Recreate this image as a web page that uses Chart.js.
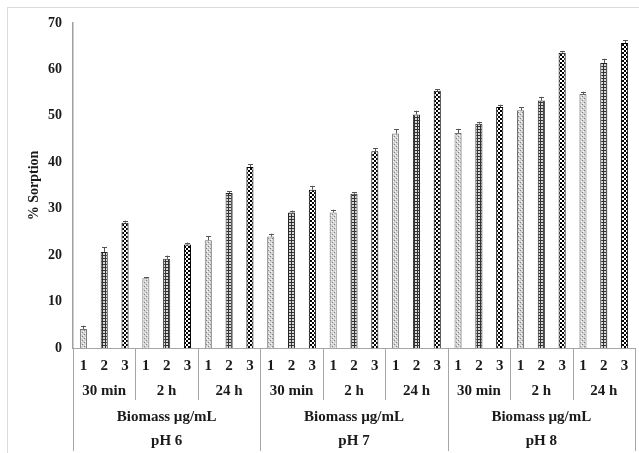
<!DOCTYPE html>
<html>
<head>
<meta charset="utf-8">
<script src="https://cdn.jsdelivr.net/npm/chart.js@4"></script>
<style>
  html, body { margin: 0; padding: 0; background: #fff; }
  #wrap { position: relative; width: 639px; height: 453px; overflow: hidden; }
  #frame { position: absolute; left: 7px; top: 7px; width: 660px; height: 480px; border: 1px solid #dcdcdc; }
  canvas { position: absolute; left: 0; top: 0; }
</style>
</head>
<body>
<div id="wrap">
  <div id="frame"></div>
  <canvas id="sorptionChart" width="639" height="453"></canvas>
</div>
<script>
// Chart data
const biomassLevels = ['1', '2', '3'];
const timePoints = ['30 min', '2 h', '24 h'];
const phGroups = ['pH 6', 'pH 7', 'pH 8'];
const groupTitle = 'Biomass \u00b5g/mL';

const sorptionPH6 = [4.1, 20.7, 27.0, 15.0, 19.2, 22.3, 23.2, 33.4, 39.0];
const sorptionPH7 = [24.0, 29.2, 34.1, 29.2, 33.2, 42.4, 46.2, 50.3, 55.4];
const sorptionPH8 = [46.3, 48.3, 51.9, 51.2, 53.3, 63.6, 54.7, 61.4, 65.7];

const errorPH6 = [0.7, 1.0, 0.4, 0.2, 0.7, 0.4, 0.9, 0.4, 0.6];
const errorPH7 = [0.6, 0.4, 0.7, 0.6, 0.4, 0.6, 0.9, 0.8, 0.3];
const errorPH8 = [0.9, 0.4, 0.5, 0.7, 0.8, 0.4, 0.5, 0.9, 0.6];

const yTicks = [0, 10, 20, 30, 40, 50, 60, 70];

const values = [...sorptionPH6, ...sorptionPH7, ...sorptionPH8];
const errors = [...errorPH6, ...errorPH7, ...errorPH8];
const labels = [];
phGroups.forEach(() => timePoints.forEach(() => biomassLevels.forEach(b => labels.push(b))));

const FONT = '"Liberation Serif", "Times New Roman", serif';

// Fill patterns for the three biomass levels
function makePattern(size, draw) {
    const c = document.createElement('canvas');
    c.width = size; c.height = size;
    draw(c.getContext('2d'));
    return document.getElementById('sorptionChart').getContext('2d').createPattern(c, 'repeat');
}

const dotted = makePattern(4, g => {
    g.fillStyle = '#d4d4d4'; g.fillRect(0, 0, 4, 4);
    g.fillStyle = '#ffffff'; g.fillRect(1, 1, 1, 1); g.fillRect(3, 3, 1, 1);
    g.fillStyle = '#808080'; g.fillRect(0, 2, 1, 1); g.fillRect(2, 0, 1, 1);
});
const grid = makePattern(3, g => {
    g.fillStyle = '#d8d8d8'; g.fillRect(0, 0, 3, 3);
    g.fillStyle = '#333333'; g.fillRect(0, 0, 3, 1); g.fillRect(0, 0, 1, 3);
});
const checker = makePattern(4, g => {
    g.fillStyle = '#000'; g.fillRect(0, 0, 4, 4);
    g.fillStyle = '#fff'; g.fillRect(0, 0, 2, 2); g.fillRect(2, 2, 2, 2);
});
const fills = [dotted, grid, checker];
const borders = ['#707070', '#222222', '#000000'];

// Error bars
const errorBars = {
    id: 'errorBars',
    afterDatasetsDraw(chart) {
        const ctx = chart.ctx;
        const y = chart.scales.y;
        const meta = chart.getDatasetMeta(0);
        ctx.save();
        ctx.strokeStyle = '#555';
        ctx.lineWidth = 1;
        meta.data.forEach((bar, i) => {
            const top = y.getPixelForValue(values[i] + errors[i]);
            const x = Math.round(bar.x) + 0.5;
            ctx.beginPath();
            ctx.moveTo(x, bar.y);
            ctx.lineTo(x, top);
            ctx.moveTo(x - 2.5, Math.round(top) + 0.5);
            ctx.lineTo(x + 2.5, Math.round(top) + 0.5);
            ctx.stroke();
        });
        ctx.restore();
    }
};

// Multi-level category labels below the axis
const groupLabels = {
    id: 'groupLabels',
    afterDraw(chart) {
        const ctx = chart.ctx;
        const x = chart.scales.x;
        const base = chart.chartArea.bottom;
        const step = x.getPixelForValue(1) - x.getPixelForValue(0);
        const edge = i => x.getPixelForValue(i) - step / 2;
        const perPh = timePoints.length * biomassLevels.length;

        ctx.save();
        ctx.fillStyle = '#1a1a1a';
        ctx.font = 'bold 15px ' + FONT;
        ctx.textAlign = 'center';
        ctx.textBaseline = 'middle';
        ctx.strokeStyle = '#a6a6a6';
        ctx.lineWidth = 1;

        labels.forEach((l, i) => ctx.fillText(l, x.getPixelForValue(i), base + 18));

        for (let g = 0; g < phGroups.length * timePoints.length; g++) {
            const a = g * biomassLevels.length;
            const mid = (x.getPixelForValue(a) + x.getPixelForValue(a + biomassLevels.length - 1)) / 2;
            ctx.fillText(timePoints[g % timePoints.length], mid, base + 43);
            if (g % timePoints.length !== 0) {
                const ex = Math.round(edge(a)) + 0.5;
                ctx.beginPath(); ctx.moveTo(ex, base); ctx.lineTo(ex, base + 52); ctx.stroke();
            }
        }

        phGroups.forEach((p, k) => {
            const a = k * perPh;
            const mid = (x.getPixelForValue(a) + x.getPixelForValue(a + perPh - 1)) / 2;
            ctx.fillText(groupTitle, mid, base + 69);
            ctx.fillText(p, mid, base + 93);
        });
        for (let k = 0; k <= phGroups.length; k++) {
            const ex = Math.round(edge(k * perPh)) + 0.5;
            ctx.beginPath(); ctx.moveTo(ex, base); ctx.lineTo(ex, base + 103); ctx.stroke();
        }
        ctx.restore();
    }
};

new Chart(document.getElementById('sorptionChart'), {
    type: 'bar',
    data: {
        labels: labels,
        datasets: [{
            data: values,
            backgroundColor: values.map((v, i) => fills[i % 3]),
            borderColor: values.map((v, i) => borders[i % 3]),
            borderWidth: 1,
            barPercentage: 0.34,
            categoryPercentage: 1
        }]
    },
    options: {
        responsive: false,
        animation: false,
        events: [],
        layout: { padding: { left: 0, right: 4, top: 23, bottom: 0 } },
        plugins: { legend: { display: false }, tooltip: { enabled: false } },
        scales: {
            x: {
                grid: { display: false, drawTicks: false },
                border: { color: '#a6a6a6', width: 1 },
                ticks: { display: false },
                afterFit: s => { s.height = 105; }
            },
            y: {
                min: 0,
                max: 70,
                afterBuildTicks: s => { s.ticks = yTicks.map(v => ({ value: v })); },
                grid: { display: false, drawTicks: false },
                border: { color: '#a0a0a0', width: 1.5 },
                ticks: {
                    padding: 11,
                    color: '#1a1a1a',
                    font: { family: FONT, size: 14, weight: 'bold' }
                },
                title: {
                    display: true,
                    text: '% Sorption',
                    color: '#1a1a1a',
                    padding: { top: 26, bottom: 0 },
                    font: { family: FONT, size: 14, weight: 'bold' }
                },
                afterFit: s => { s.width = 73; }
            }
        }
    },
    plugins: [errorBars, groupLabels]
});
</script>
</body>
</html>
